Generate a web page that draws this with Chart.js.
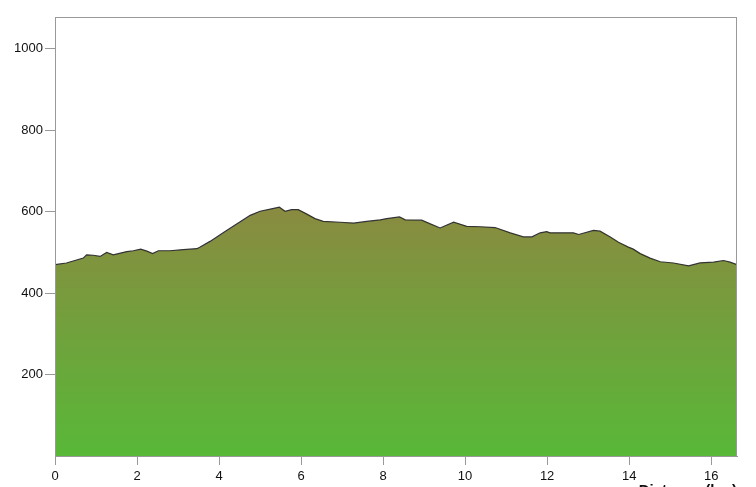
<!DOCTYPE html>
<html>
<head>
<meta charset="utf-8">
<script src="https://cdn.jsdelivr.net/npm/chart.js@4/dist/chart.umd.min.js"></script>
<style>
  html, body { margin: 0; padding: 0; background: #fff; overflow: hidden; }
  #wrap { width: 756px; height: 487px; overflow: hidden; }
</style>
</head>
<body>
<div id="wrap"><canvas id="profile" width="756" height="500"></canvas></div>
<script>
// distance along route (km) and elevation (m)
const distKm = [0, 0.28, 0.69, 0.77, 0.93, 1.10, 1.26, 1.42, 1.75, 1.91, 2.09, 2.24, 2.38, 2.52,
    2.80, 3.13, 3.46, 3.54, 3.78, 4.10, 4.43, 4.76, 5.00, 5.28, 5.47, 5.61, 5.77, 5.93, 6.14,
    6.34, 6.54, 6.95, 7.28, 7.60, 7.93, 8.09, 8.40, 8.54, 8.94, 9.15, 9.39, 9.72, 10.04, 10.37,
    10.73, 11.10, 11.42, 11.63, 11.83, 11.99, 12.07, 12.64, 12.77, 13.13, 13.29, 13.54, 13.74,
    13.98, 14.10, 14.27, 14.51, 14.76, 15.08, 15.45, 15.73, 16.06, 16.30, 16.46, 16.63];
const elevM = [470, 474, 486, 494, 493, 490, 500, 494, 502, 504, 508, 503, 497, 504,
    504, 507, 509, 513, 527, 548, 570, 591, 601, 607, 611, 601, 605, 605, 594,
    583, 576, 574, 572, 576, 580, 583, 587, 580, 579, 570, 560, 574, 564, 563,
    561, 548, 538, 538, 548, 551, 548, 548, 544, 554, 552, 538, 525,
    513, 508, 497, 486, 477, 474, 467, 474, 476, 480, 476, 470];
const xTicks = [0, 2, 4, 6, 8, 10, 12, 14, 16];
const yTicks = [200, 400, 600, 800, 1000];

const X_MAX = 16.63;
const Y_MAX = 1078;

// thin grey frame round the plot area
const frame = {
    id: 'frame',
    afterDraw(chart) {
        const a = chart.chartArea;
        const ctx = chart.ctx;
        ctx.save();
        ctx.strokeStyle = '#999';
        ctx.lineWidth = 1;
        ctx.strokeRect(a.left + 0.5, a.top + 0.5, a.right - a.left - 1, a.bottom - a.top);
        ctx.restore();
    }
};

function groundFill(context) {
    const chart = context.chart;
    const a = chart.chartArea;
    if (!a) return '#7a9a40';
    const top = chart.scales.y.getPixelForValue(615);
    const g = chart.ctx.createLinearGradient(0, top, 0, a.bottom);
    g.addColorStop(0, '#8a8a40');
    g.addColorStop(1, '#58b838');
    return g;
}

const tickFont = { family: 'Liberation Sans, Arial, sans-serif', size: 13 };

new Chart(document.getElementById('profile'), {
    type: 'line',
    data: {
        datasets: [{
            data: distKm.map((d, i) => ({ x: d, y: elevM[i] })),
            borderColor: '#333',
            borderWidth: 1.2,
            backgroundColor: groundFill,
            fill: 'origin',
            pointRadius: 0,
            tension: 0
        }]
    },
    plugins: [frame],
    options: {
        responsive: false,
        animation: false,
        devicePixelRatio: 1,
        layout: { padding: { top: 17, right: 19, left: 0, bottom: 0 } },
        plugins: { legend: { display: false }, tooltip: { enabled: false } },
        scales: {
            x: {
                type: 'linear',
                min: 0,
                max: X_MAX,
                afterBuildTicks: s => { s.ticks = xTicks.map(v => ({ value: v })); },
                afterFit: s => { s.height = 44; },
                grid: { drawOnChartArea: false, drawTicks: true, tickLength: 9, color: '#999' },
                border: { color: '#999' },
                ticks: { color: '#111', font: tickFont, padding: 4, maxRotation: 0, callback: v => String(v) },
                title: {
                    display: true,
                    text: 'Distance (km)',
                    align: 'end',
                    color: '#111',
                    font: { family: 'Liberation Sans, Arial, sans-serif', size: 15, weight: 'bold' },
                    padding: { top: 0, bottom: 0 }
                }
            },
            y: {
                min: 0,
                max: Y_MAX,
                afterBuildTicks: s => { s.ticks = yTicks.map(v => ({ value: v })); },
                afterFit: s => { s.width = 55; },
                grid: { drawOnChartArea: false, drawTicks: true, tickLength: 10, color: '#999' },
                border: { color: '#999' },
                ticks: { color: '#111', font: tickFont, padding: 2, callback: v => String(v) }
            }
        }
    }
});
</script>
</body>
</html>
